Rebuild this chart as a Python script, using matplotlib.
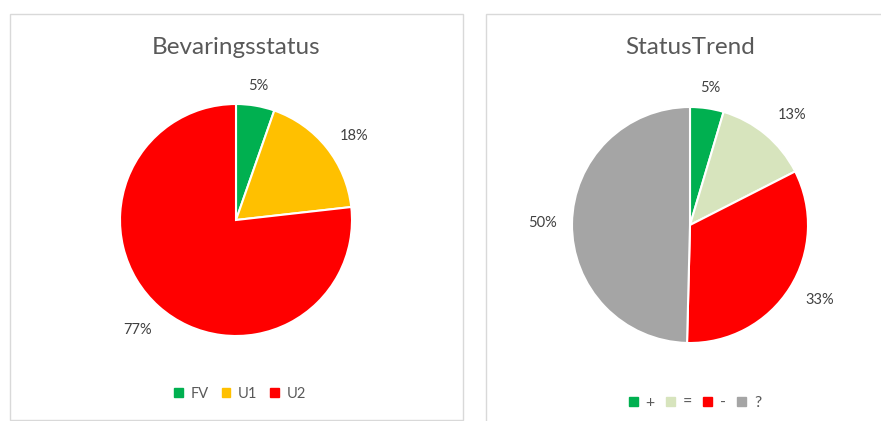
import numpy as np
import matplotlib
matplotlib.use("Agg")
import matplotlib.pyplot as plt
from matplotlib.patches import Rectangle, Patch

plt.rcParams["font.family"] = ["Lato", "DejaVu Sans"]

# data
status_labels = ["FV", "U1", "U2"]
status_values = [3, 10, 43]
status_colors = ["#00B050", "#FFC000", "#FF0000"]

trend_labels = ["+", "=", "-", "?"]
trend_values = [4.6, 12.9, 32.9, 49.6]
trend_colors = ["#00B050", "#D7E4BD", "#FF0000", "#A5A5A5"]

W, H = 881, 421
fig = plt.figure(figsize=(W / 100, H / 100), dpi=100)
fig.patch.set_facecolor("white")

LIM = 1.5

def px_axes(cx, cy, r):
    # cx, cy in pixels from top-left, r = pie radius in px
    size = 2 * LIM * r
    ax = fig.add_axes([(cx - size / 2) / W, (H - cy - size / 2) / H, size / W, size / H])
    return ax

def draw_pie(ax, values, colors, dists, shifts):
    wedges, texts, autotexts = ax.pie(values, colors=colors, startangle=90, counterclock=False,
                                      autopct="%.0f%%", pctdistance=1.22,
                                      wedgeprops=dict(edgecolor="white", linewidth=1.5),
                                      textprops=dict(color="#404040", fontsize=10.5))
    # label placement: distance from centre and small angle shift (degrees)
    for w, t, d, s in zip(wedges, autotexts, dists, shifts):
        ang = np.deg2rad((w.theta1 + w.theta2) / 2 + s)
        t.set_position((d * np.cos(ang), d * np.sin(ang)))
    ax.set_xlim(-LIM, LIM)
    ax.set_ylim(-LIM, LIM)
    ax.set_aspect("equal")
    ax.axis("off")
    return wedges

# panel frames
fig.add_artist(Rectangle((10 / W, 1 - 420 / H), 453 / W, 406 / H, transform=fig.transFigure,
                         fill=False, edgecolor="#D9D9D9", linewidth=1))
fig.add_artist(Rectangle((486 / W, -0.01), 0.5, 1 - 14 / H + 0.01, transform=fig.transFigure,
                         fill=False, edgecolor="#D9D9D9", linewidth=1))

ax1 = px_axes(236, 220, 116)
draw_pie(ax1, status_values, status_colors, [1.17, 1.25, 1.27], [0, -3, 0])
fig.text(236 / W, 1 - 47 / H, "Bevaringsstatus", ha="center", va="center",
         fontsize=17.5, color="#595959")
fig.legend([Patch(color=c) for c in status_colors], status_labels, loc="center",
           bbox_to_anchor=(240 / W, 1 - 394 / H), ncol=3, frameon=False, fontsize=10.5,
           handlelength=0.6, handleheight=0.6, handletextpad=0.5, columnspacing=0.9,
           labelcolor="#595959")

ax2 = px_axes(690, 225, 118)
draw_pie(ax2, trend_values, trend_colors, [1.17, 1.27, 1.27, 1.25], [0, -3, 2, 0])
fig.text(690 / W, 1 - 47 / H, "StatusTrend", ha="center", va="center",
         fontsize=17.5, color="#595959")
fig.legend([Patch(color=c) for c in trend_colors], trend_labels, loc="center",
           bbox_to_anchor=(695 / W, 1 - 403 / H), ncol=4, frameon=False, fontsize=11.5,
           handlelength=0.55, handleheight=0.55, handletextpad=0.5, columnspacing=0.7,
           labelcolor="#595959")

fig.savefig("out.png", dpi=100, facecolor="white")
